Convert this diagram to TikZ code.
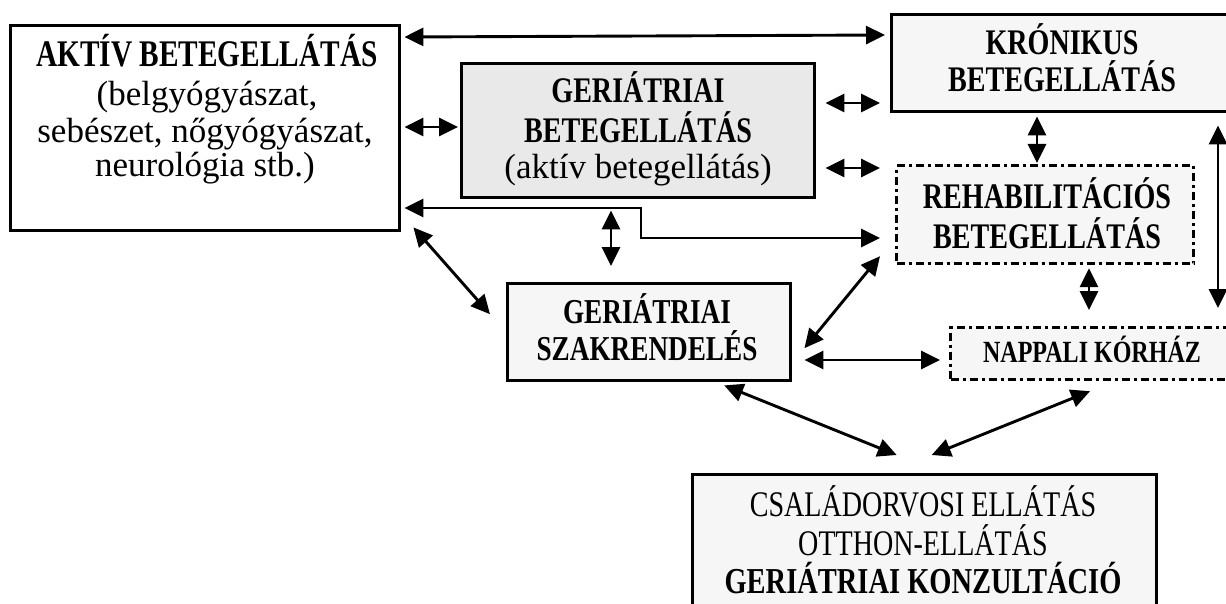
\documentclass[tikz,border=0pt]{standalone}
\usepackage{fontspec}
\setmainfont{Liberation Serif}
\newfontfamily\cond[FakeStretch=0.78]{Liberation Serif}
\usetikzlibrary{arrows.meta,calc}
\begin{document}
\begin{tikzpicture}[x=1pt,y=-1pt,
  box/.style={draw=black, line width=3.4pt, inner sep=0pt, anchor=north west},
  dashbox/.style={box, line width=3.2pt, dash pattern=on 8pt off 4pt on 3pt off 4pt},
  lt/.style={anchor=base, inner sep=0pt},
  hd/.style={lt, font=\cond\bfseries\fontsize{36}{38}\selectfont},
  rg/.style={lt, font=\fontsize{35}{38}\selectfont},
  cr/.style={lt, font=\cond\fontsize{36}{38}\selectfont},
  arr/.style={line width=2.9pt, {Triangle[length=19pt,width=18pt]}-{Triangle[length=19pt,width=18pt]}}
]
\useasboundingbox (0,0) rectangle (1226,604);
\fill[white] (0,0) rectangle (1226,604);

% boxes
\node[box, fill=white, minimum width=389pt, minimum height=205pt] (A) at (9,24) {};
\node[box, fill=gray!17, minimum width=353pt, minimum height=134pt] (GB) at (460,62) {};
\node[box, fill=gray!7, minimum width=345pt, minimum height=97pt] (K) at (890,13) {};
\node[dashbox, fill=gray!7, minimum width=297pt, minimum height=98pt] (R) at (895,164) {};
\node[dashbox, fill=gray!7, minimum width=285pt, minimum height=52pt] (N) at (949,326) {};
\node[box, fill=gray!7, minimum width=283pt, minimum height=97pt] (SZ) at (506,282) {};
\node[box, fill=gray!7, minimum width=464pt, minimum height=150pt] (C) at (691,473) {};

% texts
\node[hd, font=\cond\bfseries\fontsize{37.6}{40}\selectfont] (A1) at (207,67) {AKTÍV BETEGELLÁTÁS};
\node[rg] (A2) at (207,106) {(belgyógyászat,};
\node[rg] (A3) at (205,143) {sebészet, nőgyógyászat,};
\node[rg] (A4) at (205,177) {neurológia stb.)};

\node[hd] (GB1) at (638,103) {GERIÁTRIAI};
\node[hd] (GB2) at (638,143) {BETEGELLÁTÁS};
\node[rg] (GB3) at (638,179) {(aktív betegellátás)};

\node[hd] (K1) at (1062,55) {KRÓNIKUS};
\node[hd] (K2) at (1062,92) {BETEGELLÁTÁS};

\node[hd] (R1) at (1047,208) {REHABILITÁCIÓS};
\node[hd] (R2) at (1047,248) {BETEGELLÁTÁS};

\node[hd, font=\cond\bfseries\fontsize{30.8}{33}\selectfont] (N1) at (1092,362) {NAPPALI KÓRHÁZ};

\node[hd, font=\cond\bfseries\fontsize{34.9}{37}\selectfont] (SZ1) at (647,323) {GERIÁTRIAI};
\node[hd, font=\cond\bfseries\fontsize{34.9}{37}\selectfont] (SZ2) at (647,360) {SZAKRENDELÉS};

\node[cr] (C1) at (923,516) {CSALÁDORVOSI ELLÁTÁS};
\node[cr] (C2) at (923,555) {OTTHON-ELLÁTÁS};
\node[hd, font=\cond\bfseries\fontsize{36.5}{39}\selectfont] (C3) at (923,593) {GERIÁTRIAI KONZULTÁCIÓ};

% connectors
\draw[arr] ($(A.east|-0,37)+(3,0)$) -- ($(K.west|-0,35)+(-5,0)$);
\draw[arr] ($(A.east|-0,127)+(3,0)$) -- ($(GB.west|-0,127)+(-2,0)$);
\draw[arr] ($(GB.east|-0,103)+(9,0)$) -- ($(K.west|-0,103)+(-10,0)$);
\draw[arr] ($(GB.east|-0,168)+(9,0)$) -- ($(R.west|-0,168)+(-15,0)$);
\coordinate (bend1) at (641,208);
\coordinate (bend2) at (641,238);
\draw[arr] ($(A.east|-0,208)+(3,0)$) -- (bend1) -- (bend2) -- ($(R.west|-0,238)+(-15,0)$);
\draw[arr] ($(GB.south-|611,0)+(0,11)$) -- ($(SZ.north-|611,0)+(0,-16)$);
\draw[arr] ($(A.south east)+(12,-5)$) -- ($(SZ.west)+(-16,-18)$);
\draw[arr] ($(SZ.east)+(12,16)$) -- ($(R.south west)+(-15,-9)$);
\draw[arr] ($(SZ.east|-0,360)+(12,0)$) -- ($(N.west|-0,360)+(-9,0)$);
\draw[arr] ($(SZ.south)+(75,3)$) -- ($(C.north)+(-28,-18)$);
\draw[arr] ($(C.north)+(7,-18)$) -- ($(N.south-|1090,0)+(0,10)$);
\draw[arr] ($(K.south-|1037,0)+(0,3)$) -- ($(R.north-|1037,0)+(0,-1)$);
\draw[arr] ($(R.south-|1089,0)+(0,3)$) -- ($(N.north-|1089,0)+(0,-16)$);
\draw[arr] ($(K.south-|1218,0)+(0,12)$) -- ($(N.north-|1218,0)+(0,-18)$);
\end{tikzpicture}
\end{document}
